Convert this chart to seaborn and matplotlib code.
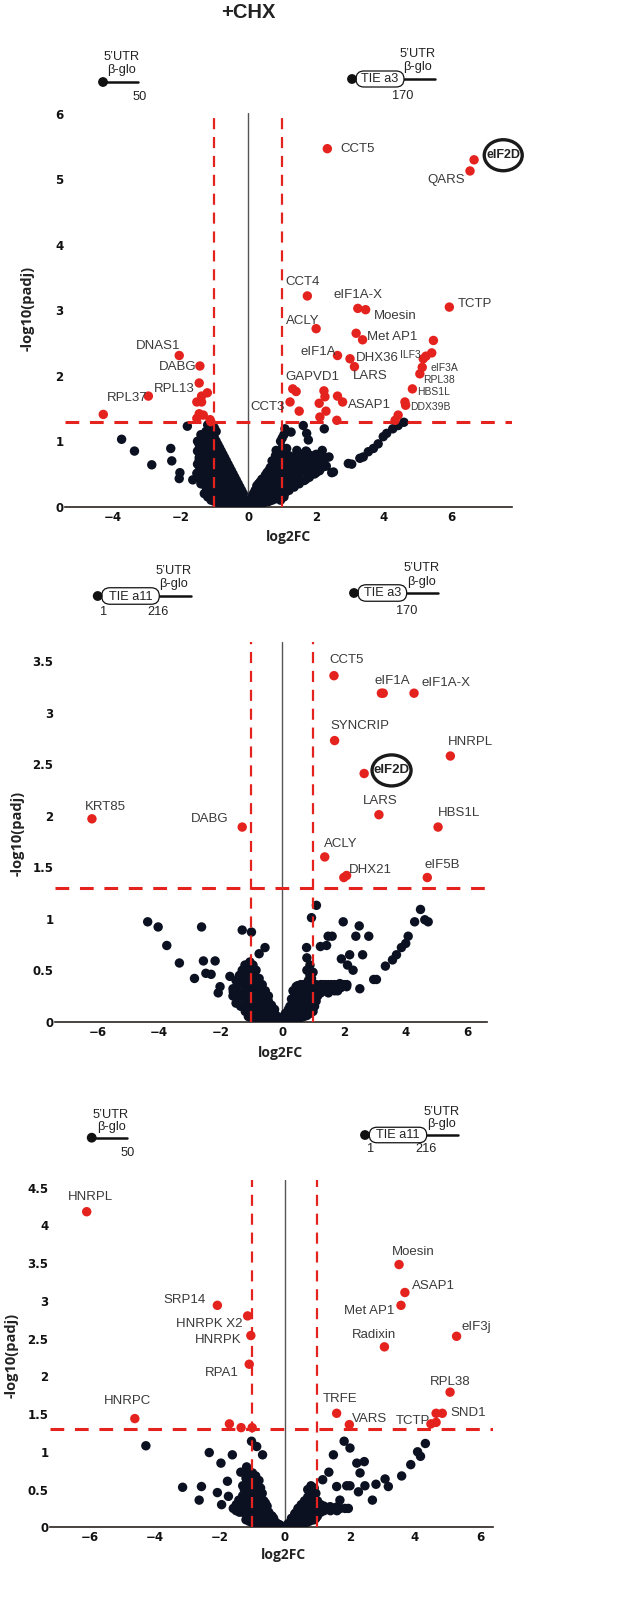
import numpy as np
import pandas as pd
import matplotlib
matplotlib.use("Agg")
import matplotlib.pyplot as plt
import seaborn as sns
from matplotlib.patches import FancyBboxPatch, Circle, Ellipse
from matplotlib.lines import Line2D
from matplotlib.transforms import IdentityTransform

W, H = 617, 1616

# ---------------- Panel 1 data ----------------
p1_sig_x = [2.33, 6.66, 6.54, 1.74, 3.23, 3.46, 5.93, 2.00, 3.18, 3.37,
            2.63, 3.00, 3.13, 5.46, 5.41, 5.24, 5.16, 5.13, 5.06, 4.84,
            4.62, 4.64, 4.42, 4.33, 1.31, 1.41, 1.23, 1.50, 2.23, 2.26,
            2.09, 2.29, 2.11, 2.63, 2.78, 2.61, -2.04, -1.43, -1.45, -1.21,
            -1.38, -1.52, -1.38, -1.45, -1.33, -1.13, -1.52, -1.11, -2.95, -4.28]
p1_sig_y = [5.47, 5.30, 5.13, 3.22, 3.03, 3.01, 3.05, 2.72, 2.65, 2.55,
            2.31, 2.26, 2.14, 2.54, 2.35, 2.30, 2.26, 2.13, 2.03, 1.80,
            1.60, 1.55, 1.40, 1.32, 1.80, 1.76, 1.60, 1.46, 1.77, 1.68,
            1.58, 1.46, 1.37, 1.69, 1.60, 1.32, 2.31, 2.15, 1.89, 1.74,
            1.69, 1.60, 1.60, 1.42, 1.40, 1.33, 1.35, 1.30, 1.69, 1.41]
p1_ns_x = [-3.74, -3.36, -2.85, -2.29, -2.26, -2.02, -2.04, -1.80, -1.64, -1.47, -1.45, -1.52, -1.33,
           1.08, 1.26, 1.62, 1.72, 1.77, 2.24, 0.82, 1.13, 1.43, 1.72, 2.18, 2.38, 2.02, 1.82, 1.52, 1.33,
           2.21, 2.51, 2.46, 2.95, 3.05, 3.29, 3.39, 3.54, 3.69, 3.83, 3.98, 4.08, 4.26, 4.42, 4.59]
p1_ns_y = [1.03, 0.85, 0.64, 0.89, 0.70, 0.52, 0.43, 1.23, 0.41, 0.86, 0.71, 0.51, 0.41,
           1.19, 1.14, 1.24, 1.12, 1.02, 1.19, 0.86, 0.89, 0.86, 0.84, 0.86, 0.76, 0.69, 0.63, 0.56, 0.36,
           0.61, 0.53, 0.52, 0.66, 0.65, 0.74, 0.76, 0.84, 0.89, 0.96, 1.07, 1.12, 1.19, 1.24, 1.29]
p1_core = {
    -1.45: [0.95, 0.75, 0.55], -1.35: [1.05, 0.85, 0.60, 0.40],
    -1.25: [1.15, 1.00, 0.80, 0.62, 0.45, 0.30],
    -1.15: [1.20, 1.05, 0.90, 0.75, 0.55, 0.38, 0.25],
    -1.05: [1.25, 1.10, 0.95, 0.80, 0.65, 0.50, 0.35, 0.20],
    -0.95: [1.15, 1.00, 0.85, 0.70, 0.55, 0.40, 0.28, 0.15],
    -0.85: [0.90, 0.75, 0.60, 0.48, 0.35, 0.22, 0.12],
    -0.75: [0.80, 0.65, 0.52, 0.40, 0.28, 0.18, 0.10],
    -0.65: [0.70, 0.58, 0.45, 0.35, 0.25, 0.15, 0.08],
    -0.55: [0.60, 0.48, 0.38, 0.28, 0.18, 0.10, 0.05],
    -0.45: [0.50, 0.40, 0.30, 0.20, 0.12, 0.06],
    -0.35: [0.40, 0.30, 0.20, 0.12, 0.06], -0.25: [0.30, 0.20, 0.12, 0.05],
    -0.15: [0.20, 0.10, 0.04], -0.05: [0.08, 0.02],
    0.05: [0.02, 0.08], 0.15: [0.05, 0.12, 0.20], 0.25: [0.08, 0.15, 0.25, 0.32],
    0.35: [0.10, 0.20, 0.30, 0.38], 0.45: [0.12, 0.22, 0.32, 0.42],
    0.55: [0.15, 0.25, 0.35, 0.45, 0.52], 0.65: [0.18, 0.28, 0.40, 0.50, 0.60],
    0.75: [0.20, 0.32, 0.45, 0.55, 0.65], 0.85: [0.22, 0.35, 0.48, 0.60, 0.70, 0.82],
    0.95: [0.10, 0.25, 0.40, 0.55, 0.68, 1.00], 1.05: [0.15, 0.30, 0.45, 0.60, 0.72, 1.10],
    1.20: [0.25, 0.40, 0.55, 0.65, 0.78], 1.35: [0.30, 0.45, 0.60, 0.70],
    1.50: [0.35, 0.50, 0.65, 0.75], 1.65: [0.40, 0.55, 0.70], 1.80: [0.45, 0.60, 0.72],
    1.95: [0.50, 0.65], 2.10: [0.55, 0.70],
}
p1_core_b = {
    -1.50: [0.45, 0.65, 0.85, 1.00], -1.40: [0.35, 0.50, 0.70, 0.90, 1.10],
    -1.30: [0.20, 0.38, 0.55, 0.72, 0.90, 1.10],
    -1.20: [0.15, 0.30, 0.48, 0.68, 0.85, 1.00, 1.15, 1.25],
    -1.10: [0.10, 0.28, 0.42, 0.60, 0.72, 0.88, 1.02, 1.18],
    -1.00: [0.08, 0.22, 0.40, 0.58, 0.75, 0.90, 1.05, 1.20],
    -0.90: [0.06, 0.18, 0.32, 0.50, 0.65, 0.80, 0.95],
    -0.80: [0.05, 0.15, 0.25, 0.42, 0.58, 0.70, 0.85],
    -0.70: [0.04, 0.12, 0.22, 0.33, 0.50, 0.62, 0.75],
    -0.60: [0.03, 0.10, 0.20, 0.30, 0.42, 0.55, 0.65],
    -0.50: [0.02, 0.08, 0.15, 0.25, 0.35, 0.45, 0.55],
    -0.40: [0.02, 0.05, 0.10, 0.18, 0.25, 0.35, 0.45],
    -0.30: [0.01, 0.04, 0.08, 0.16, 0.25, 0.35],
    -0.20: [0.01, 0.03, 0.07, 0.15, 0.25], -0.10: [0.01, 0.04, 0.10],
    0.10: [0.01, 0.04, 0.10, 0.15], 0.20: [0.02, 0.07, 0.15, 0.25],
    0.30: [0.03, 0.10, 0.20, 0.28, 0.35], 0.40: [0.05, 0.15, 0.25, 0.35, 0.42],
    0.50: [0.07, 0.18, 0.28, 0.40, 0.48], 0.60: [0.08, 0.20, 0.32, 0.45, 0.55],
    0.70: [0.10, 0.22, 0.35, 0.48, 0.60, 0.70], 0.80: [0.12, 0.25, 0.38, 0.52, 0.65, 0.78],
    0.90: [0.15, 0.30, 0.45, 0.60, 0.72, 0.85],
    1.00: [0.20, 0.35, 0.50, 0.62, 0.78, 0.90, 1.05],
    1.10: [0.22, 0.38, 0.52, 0.66, 0.80], 1.25: [0.30, 0.48, 0.62, 0.72],
    1.40: [0.35, 0.52, 0.66, 0.78], 1.55: [0.40, 0.55, 0.70, 0.80],
    1.70: [0.42, 0.58, 0.72, 0.85], 1.85: [0.50, 0.62, 0.78],
    2.00: [0.52, 0.68, 0.80], 2.15: [0.60, 0.72], 2.30: [0.62, 0.75],
}
p1_labels = ["CCT5", "QARS", "CCT4", "eIF1A-X", "TCTP", "Moesin", "ACLY", "Met AP1", "DNAS1",
             "eIF1A", "DHX36", "ILF3", "DABG", "eIF3A", "LARS", "GAPVD1", "RPL38", "RPL13",
             "HBS1L", "RPL37", "ASAP1", "CCT3", "DDX39B"]
p1_lab_x = [2.72, 5.28, 1.10, 2.51, 6.19, 3.71, 1.10, 3.51, -3.31, 1.55, 3.18, 4.47, -2.63,
            5.36, 3.08, 1.10, 5.16, -2.78, 4.97, -4.18, 2.93, 0.05, 4.77]
p1_lab_y = [5.47, 4.99, 3.44, 3.23, 3.10, 2.92, 2.83, 2.59, 2.46, 2.36, 2.27, 2.32, 2.13,
            2.12, 1.99, 1.98, 1.94, 1.80, 1.75, 1.66, 1.56, 1.52, 1.52]
p1_lab_small = ["ILF3", "eIF3A", "RPL38", "HBS1L", "DDX39B"]

# ---------------- Panel 2 data ----------------
p2_sig_x = [1.68, 3.22, 3.28, 4.28, 1.70, 5.46, 2.66, 3.14, 5.06, -6.18, -1.30, 1.38, 2.00, 2.09, 4.71]
p2_sig_y = [3.36, 3.19, 3.19, 3.19, 2.73, 2.58, 2.41, 2.01, 1.89, 1.97, 1.89, 1.60, 1.40, 1.42, 1.40]
p2_ns_x = [-4.37, -4.03, -3.75, -3.34, -2.85, -2.62, -2.56, -2.18, -2.48, -2.31,
           -2.02, -2.08, -1.70, -1.59, -1.39, -1.30, -1.00, -1.21, -0.75, -0.56, -1.16,
           1.11, 0.95, 1.98, 2.50, 2.39, 2.81, 1.49, 1.62, 0.79, 1.24,
           1.44, 1.92, 2.19, 2.61, 2.12, 2.30, 2.52, 2.97, 3.06, 3.35,
           3.58, 3.71, 3.87, 4.01, 4.09, 4.30, 4.49, 4.63, 4.74, 1.49, 1.87, 2.09]
p2_ns_y = [0.97, 0.92, 0.74, 0.57, 0.42, 0.92, 0.59, 0.59, 0.47, 0.46,
           0.34, 0.28, 0.44, 0.29, 0.45, 0.89, 0.87, 0.55, 0.66, 0.72, 0.18,
           1.13, 1.01, 0.97, 0.93, 0.83, 0.83, 0.83, 0.83, 0.72, 0.73,
           0.74, 0.61, 0.65, 0.65, 0.55, 0.50, 0.32, 0.41, 0.41, 0.54,
           0.60, 0.65, 0.72, 0.76, 0.83, 0.97, 1.09, 0.99, 0.97, 0.34, 0.37, 0.34]
p2_core = {
    -1.45: [0.22, 0.35], -1.30: [0.25, 0.40, 0.50],
    -1.15: [0.12, 0.30, 0.45, 0.55], -1.05: [0.08, 0.20, 0.35, 0.50, 0.58],
    -0.95: [0.06, 0.15, 0.30, 0.45, 0.55], -0.85: [0.05, 0.12, 0.25, 0.38, 0.50],
    -0.75: [0.04, 0.10, 0.20, 0.32, 0.42], -0.65: [0.03, 0.08, 0.18, 0.28, 0.36],
    -0.55: [0.02, 0.06, 0.15, 0.24, 0.30], -0.45: [0.02, 0.05, 0.12, 0.20, 0.25],
    -0.35: [0.01, 0.03, 0.10, 0.16], -0.25: [0.01, 0.02, 0.08, 0.12],
    -0.15: [0.01, 0.02, 0.05], -0.05: [0.01],
    0.10: [0.01, 0.03, 0.08], 0.20: [0.01, 0.05, 0.12], 0.30: [0.02, 0.06, 0.15, 0.22],
    0.40: [0.02, 0.08, 0.18, 0.28], 0.50: [0.03, 0.10, 0.20, 0.30, 0.35],
    0.60: [0.04, 0.10, 0.22, 0.32, 0.36], 0.70: [0.05, 0.12, 0.24, 0.34, 0.36],
    0.80: [0.06, 0.15, 0.25, 0.35, 0.50, 0.62], 0.90: [0.08, 0.12, 0.25, 0.35, 0.45, 0.55],
    1.00: [0.10, 0.18, 0.28, 0.36, 0.48], 1.10: [0.20, 0.30, 0.36],
    1.25: [0.28, 0.36], 1.40: [0.30, 0.36], 1.60: [0.32, 0.36], 1.80: [0.30, 0.36],
    2.00: [0.36],
}
p2_core_b = {
    -1.60: [0.25, 0.32], -1.50: [0.18, 0.30, 0.40], -1.35: [0.15, 0.28, 0.38],
    -1.20: [0.10, 0.22, 0.35, 0.48], -1.10: [0.05, 0.15, 0.28, 0.40, 0.52],
    -1.00: [0.04, 0.12, 0.25, 0.40, 0.52], -0.90: [0.03, 0.10, 0.20, 0.35, 0.48],
    -0.80: [0.03, 0.08, 0.18, 0.30, 0.42], -0.70: [0.02, 0.06, 0.15, 0.25, 0.35],
    -0.60: [0.02, 0.05, 0.12, 0.20, 0.30], -0.50: [0.01, 0.04, 0.10, 0.18],
    -0.40: [0.01, 0.03, 0.08, 0.14], -0.30: [0.01, 0.02, 0.06], -0.20: [0.01, 0.03],
    0.15: [0.01, 0.04], 0.25: [0.02, 0.08, 0.15], 0.35: [0.03, 0.10, 0.20, 0.30],
    0.45: [0.04, 0.12, 0.25, 0.34], 0.55: [0.05, 0.15, 0.27, 0.35],
    0.65: [0.06, 0.16, 0.28, 0.35], 0.75: [0.08, 0.18, 0.30, 0.36],
    0.85: [0.10, 0.20, 0.30, 0.40], 0.95: [0.12, 0.22, 0.32, 0.42],
    1.05: [0.15, 0.26, 0.34], 1.15: [0.25, 0.34], 1.30: [0.30, 0.36],
    1.50: [0.28, 0.36], 1.70: [0.30, 0.36], 1.90: [0.33, 0.36], 2.10: [0.36],
}
p2_labels = ["CCT5", "eIF1A", "eIF1A-X", "SYNCRIP", "HNRPL", "LARS", "HBS1L", "KRT85",
             "DABG", "ACLY", "DHX21", "eIF5B"]
p2_lab_x = [1.52, 2.98, 4.52, 1.58, 5.38, 2.61, 5.04, -6.40, -2.97, 1.35, 2.17, 4.63]
p2_lab_y = [3.51, 3.31, 3.29, 2.87, 2.72, 2.14, 2.03, 2.08, 1.97, 1.73, 1.47, 1.52]

# ---------------- Panel 3 data ----------------
p3_sig_x = [-6.10, 3.51, 3.69, 3.57, 5.28, 3.06, -2.08, -1.15, -1.05, -1.10, 5.08,
            4.65, 4.84, 4.49, 4.65, 1.59, 1.98, -4.62, -1.71, -1.35, -1.01]
p3_sig_y = [4.18, 3.48, 3.11, 2.94, 2.53, 2.39, 2.94, 2.80, 2.54, 2.16, 1.79,
            1.51, 1.51, 1.37, 1.39, 1.51, 1.36, 1.44, 1.37, 1.32, 1.32]
p3_ns_x = [-4.28, -3.15, -2.57, -2.64, -2.33, -1.97, -1.62, -2.08, -1.77, -1.74,
           -1.42, -1.18, -1.36, -1.03, -0.87, -0.69, -1.59, -1.95,
           1.49, 1.82, 2.00, 2.21, 2.44, 2.31, 1.35, 1.16, 1.59, 1.90,
           2.00, 2.46, 2.26, 2.80, 3.08, 3.18, 2.69, 3.59, 3.87, 4.08,
           4.17, 4.32, 1.69, 1.95, 1.38, 0.97]
p3_ns_y = [1.08, 0.53, 0.54, 0.36, 0.99, 0.85, 0.96, 0.46, 0.61, 0.41,
           0.36, 0.80, 0.73, 1.14, 1.07, 0.96, 0.25, 0.30,
           0.96, 1.14, 1.05, 0.85, 0.87, 0.72, 0.73, 0.63, 0.54, 0.55,
           0.55, 0.55, 0.47, 0.57, 0.64, 0.54, 0.36, 0.68, 0.83, 1.00,
           0.94, 1.11, 0.36, 0.25, 0.27, 0.27]
p3_core = {
    -1.40: [0.20, 0.30], -1.25: [0.25, 0.35, 0.50],
    -1.15: [0.15, 0.30, 0.45, 0.60, 0.75], -1.05: [0.10, 0.25, 0.40, 0.55, 0.70],
    -0.95: [0.10, 0.22, 0.38, 0.52, 0.65], -0.85: [0.08, 0.20, 0.32, 0.45, 0.60],
    -0.75: [0.06, 0.18, 0.30, 0.42, 0.52], -0.65: [0.05, 0.15, 0.25, 0.35],
    -0.55: [0.04, 0.12, 0.20, 0.28], -0.45: [0.03, 0.10, 0.16],
    -0.35: [0.02, 0.08, 0.12], -0.25: [0.02, 0.05], -0.15: [0.01, 0.03], -0.05: [0.01],
    0.10: [0.02, 0.05], 0.20: [0.03, 0.08, 0.12], 0.30: [0.04, 0.10, 0.18],
    0.40: [0.05, 0.12, 0.20, 0.25], 0.50: [0.06, 0.14, 0.22, 0.30],
    0.60: [0.08, 0.16, 0.26, 0.35], 0.70: [0.10, 0.20, 0.30, 0.40, 0.50],
    0.80: [0.12, 0.22, 0.32, 0.45, 0.55], 0.90: [0.10, 0.20, 0.30, 0.42, 0.52],
    1.00: [0.15, 0.25, 0.35], 1.10: [0.20, 0.30], 1.30: [0.25], 1.50: [0.25],
    1.70: [0.25], 1.85: [0.25],
}
p3_core_b = {
    -1.50: [0.22, 0.30], -1.30: [0.20, 0.30, 0.42, 0.55],
    -1.20: [0.10, 0.22, 0.35, 0.50, 0.65], -1.10: [0.08, 0.18, 0.32, 0.48, 0.62, 0.72],
    -1.00: [0.06, 0.15, 0.30, 0.45, 0.60, 0.72], -0.90: [0.05, 0.12, 0.28, 0.42, 0.55, 0.68],
    -0.80: [0.04, 0.10, 0.24, 0.38, 0.50, 0.62], -0.70: [0.03, 0.08, 0.20, 0.32, 0.45],
    -0.60: [0.02, 0.06, 0.15, 0.25, 0.32], -0.50: [0.02, 0.05, 0.12, 0.20],
    -0.40: [0.01, 0.04, 0.10, 0.15], -0.30: [0.01, 0.03, 0.07], -0.20: [0.01, 0.02, 0.04],
    0.15: [0.01, 0.04], 0.25: [0.02, 0.06, 0.12], 0.35: [0.03, 0.08, 0.15, 0.20],
    0.45: [0.04, 0.10, 0.18, 0.26], 0.55: [0.05, 0.12, 0.20, 0.30],
    0.65: [0.06, 0.14, 0.24, 0.34], 0.75: [0.08, 0.16, 0.28, 0.38],
    0.85: [0.10, 0.20, 0.30, 0.40, 0.50], 0.95: [0.12, 0.22, 0.32, 0.45],
    1.05: [0.20, 0.28], 1.20: [0.22, 0.28], 1.40: [0.22, 0.27], 1.60: [0.22, 0.27],
}
p3_labels = ["HNRPL", "Moesin", "ASAP1", "SRP14", "Met AP1", "HNRPK X2", "eIF3j", "Radixin",
             "HNRPK", "RPA1", "RPL38", "TRFE", "HNRPC", "SND1", "VARS", "TCTP"]
p3_lab_x = [-6.67, 3.30, 3.92, -3.74, 1.82, -3.36, 5.44, 2.05, -2.77, -2.48, 4.46, 1.15,
            -5.57, 5.08, 2.07, 3.42]
p3_lab_y = [4.37, 3.65, 3.20, 3.01, 2.87, 2.69, 2.65, 2.55, 2.48, 2.05, 1.92, 1.70,
            1.67, 1.51, 1.43, 1.41]

RED = "#e5231e"
NAVY = "#0c1122"
LBL = "#3a3a3a"
LABEL_FONT = ["Liberation Sans", "DejaVu Sans"]
AXLAB_FONT = ["Open Sans", "DejaVu Sans"]

sns.set_theme(style="white")
plt.rcParams["font.family"] = ["DejaVu Sans"]

fig = plt.figure(figsize=(W / 100, H / 100), dpi=100)
IT = IdentityTransform()


def frac_rect(left, top, right, bottom):
    return [left / W, 1 - bottom / H, (right - left) / W, (bottom - top) / H]


def build_df(sig_x, sig_y, ns_x, ns_y, cores):
    cx, cy = [], []
    for core in cores:
        for k, ys in core.items():
            for v in ys:
                cx.append(k)
                cy.append(v)
    df = pd.DataFrame({
        "log2FC": list(ns_x) + cx + list(sig_x),
        "nlp": list(ns_y) + cy + list(sig_y),
        "sig": ["ns"] * (len(ns_x) + len(cx)) + ["sig"] * len(sig_x),
    })
    return df


def panel(rect, df, xlim, ylim, yticks, ytlabels, labels, lx, ly, small=(), lsize=9.5):
    ax = fig.add_axes(rect)
    sns.scatterplot(data=df, x="log2FC", y="nlp", hue="sig",
                    palette={"ns": NAVY, "sig": RED}, s=46, linewidth=0,
                    edgecolor="none", legend=False, ax=ax, zorder=3)
    ax.set_xticks([-6, -4, -2, 0, 2, 4, 6])
    ax.set_yticks(yticks)
    ax.set_yticklabels(ytlabels)
    ax.set_xlim(*xlim)
    ax.set_ylim(*ylim)
    ax.axvline(0, color="#555555", lw=1.0, zorder=2)
    for xv in (-1, 1):
        ax.axvline(xv, color=RED, lw=1.6, ls=(0, (5, 3.5)), zorder=4)
    ax.axhline(1.3, color=RED, lw=2.2, ls=(0, (4.5, 3.5)), zorder=4)
    for s in ("top", "right", "left"):
        ax.spines[s].set_visible(False)
    ax.spines["bottom"].set_color("#2b2420")
    ax.spines["bottom"].set_linewidth(1.2)
    ax.tick_params(axis="both", length=0, labelsize=8.5, colors="#111111")
    ax.tick_params(axis="y", pad=1)
    ax.tick_params(axis="x", pad=3)
    for t in ax.get_xticklabels() + ax.get_yticklabels():
        t.set_fontweight("bold")
    ax.set_xlabel("")
    ax.set_ylabel("")
    ax.grid(False)
    for name, x, y in zip(labels, lx, ly):
        ax.text(x, y, name, ha="left", va="center",
                fontsize=7.5 if name in small else lsize,
                color=LBL, family=LABEL_FONT, zorder=5)
    return ax


def ring(ax, x, y, label, w, h, fs):
    px, py = ax.transData.transform((x, y))
    fig.add_artist(Ellipse((px, py), w, h, fc="white", ec="#1a1a1a", lw=2.4,
                           transform=IT, zorder=8))
    fig.text(px / W, py / H, label, ha="center", va="center", fontsize=fs,
             fontweight="bold", color="#222222", family=LABEL_FONT, zorder=9)


# panel 1
df1 = build_df(p1_sig_x, p1_sig_y, p1_ns_x, p1_ns_y, [p1_core, p1_core_b])
ax1 = panel(frac_rect(65, 112.7, 511.7, 506.7), df1, (-5.41, 7.77), (0, 6.02),
            [0, 1, 2, 3, 4, 5, 6], ["0", "1", "2", "3", "4", "5", "6"],
            p1_labels, p1_lab_x, p1_lab_y, small=p1_lab_small)
ring(ax1, 7.52, 5.37, "eIF2D", 38, 31, 9)

# panel 2
df2 = build_df(p2_sig_x, p2_sig_y, p2_ns_x, p2_ns_y, [p2_core, p2_core_b])
ax2 = panel(frac_rect(55, 641.7, 486.7, 1021.7), df2, (-7.38, 6.64), (0, 3.69),
            [0, 0.5, 1, 1.5, 2, 2.5, 3, 3.5], ["0", "0.5", "1", "1.5", "2", "2.5", "3", "3.5"],
            p2_labels, p2_lab_x, p2_lab_y)
ring(ax2, 3.55, 2.44, "eIF2D", 39, 31, 9.5)

# panel 3
df3 = build_df(p3_sig_x, p3_sig_y, p3_ns_x, p3_ns_y, [p3_core, p3_core_b])
ax3 = panel(frac_rect(50, 1180, 493.3, 1527.3), df3, (-7.23, 6.41), (0, 4.6),
            [0, 0.5, 1, 1.5, 2, 2.5, 3, 3.5, 4, 4.5],
            ["0", "0.5", "1", "1.5", "2", "2.5", "3", "3.5", "4", "4.5"],
            p3_labels, p3_lab_x, p3_lab_y)


# ---------------- figure texts ----------------
def ftext(x, y, s, **kw):
    kw.setdefault("zorder", 10)
    fig.text(x / W, 1 - y / H, s, **kw)


ftext(248, 13, "+CHX", ha="center", va="center", fontsize=14.5, fontweight="bold",
      family=LABEL_FONT, color="#222222")
for (x, y) in [(288, 537), (280, 1053), (283, 1555)]:
    ftext(x, y, "log2FC", ha="center", va="center", fontsize=10, fontweight="bold",
          family=AXLAB_FONT, color="#222222")
for (x, y) in [(28, 308), (18, 833), (12, 1355)]:
    ftext(x, y, "-log10(padj)", ha="center", va="center", fontsize=10.5, fontweight="bold",
          family=AXLAB_FONT, rotation=90, color="#222222")


# ---------------- construct diagrams (pixel space) ----------------
def hline(x0, x1, y):
    fig.add_artist(Line2D([x0, x1], [H - y, H - y], color="#111111", lw=1.8, transform=IT))


def dot(x, y):
    fig.add_artist(Circle((x, H - y), 4.2, color="#111111", transform=IT, zorder=5))


def pill(x0, x1, yc, h, label):
    fig.add_artist(FancyBboxPatch((x0, H - yc - h / 2), x1 - x0, h,
                                  boxstyle="round,pad=0,rounding_size=%f" % (h / 2),
                                  fc="white", ec="#111111", lw=0.9, transform=IT, zorder=4))
    ftext((x0 + x1) / 2, yc + 0.5, label, ha="center", va="center", fontsize=9.2,
          family=LABEL_FONT, color="#222222")


def utr(xc, y1, y2):
    ftext(xc, y1, "5\u2019UTR", ha="center", va="center", fontsize=9.2, family=LABEL_FONT, color="#222222")
    ftext(xc, y2, "\u03b2-glo", ha="center", va="center", fontsize=9.2, family=LABEL_FONT, color="#222222")


def small(x, y, s):
    ftext(x, y, s, ha="center", va="center", fontsize=9.2, family=LABEL_FONT, color="#222222")


# panel 1 constructs
hline(103, 138, 82); dot(103, 82); utr(122, 57, 70); small(140, 97, "50")
hline(404, 435, 79); dot(352, 79); pill(356, 404, 79, 16, "TIE a3"); utr(418, 54, 67)
small(403, 96, "170")
# panel 2 constructs
hline(159, 191, 596); dot(97.7, 596); pill(101.7, 159.3, 596, 16.5, "TIE a11"); utr(174, 571, 584)
small(104, 612, "1"); small(158, 612, "216")
hline(406.7, 438, 593); dot(354, 593); pill(358, 406.7, 593, 16.5, "TIE a3"); utr(422, 568, 582)
small(406.7, 611, "170")
# panel 3 constructs
hline(91.7, 127.3, 1137.7); dot(91.7, 1137.7); utr(111, 1115, 1127); small(128, 1153, "50")
hline(426.7, 458.3, 1135); dot(365, 1135); pill(369.3, 426.7, 1135, 15.5, "TIE a11"); utr(442, 1112, 1123.5)
small(370.7, 1149.5, "1"); small(425.7, 1149.5, "216")

fig.savefig("out.png", dpi=100, facecolor="white")
